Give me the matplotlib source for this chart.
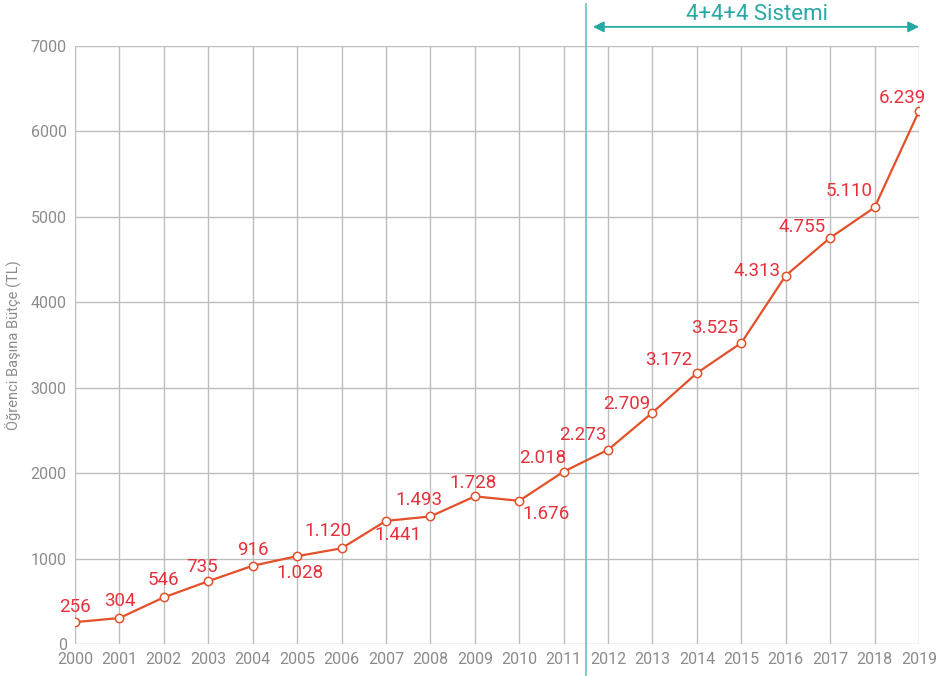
import matplotlib.pyplot as plt

years = list(range(2000, 2020))
budget = [256, 304, 546, 735, 916, 1028, 1120, 1441, 1493, 1728,
          1676, 2018, 2273, 2709, 3172, 3525, 4313, 4755, 5110, 6239]
labels = ['256', '304', '546', '735', '916', '1.028', '1.120', '1.441', '1.493', '1.728',
          '1.676', '2.018', '2.273', '2.709', '3.172', '3.525', '4.313', '4.755', '5.110', '6.239']
# label offsets in pixels (dx, dy), dy positive = up
offsets = [(0, 15), (0, 17), (0, 17), (-6, 14), (0, 16), (3, -17), (-14, 17), (12, -14),
           (-11, 16), (-2, 13), (27, -13), (-21, 14), (-25, 15), (-26, 9), (-28, 13),
           (-27, 15), (-29, 5), (-28, 11), (-26, 16), (-17, 13)]

plt.rcParams['font.family'] = ['Roboto', 'DejaVu Sans']

fig = plt.figure(figsize=(9.4, 6.76), dpi=100)
ax = fig.add_axes([75 / 940, 1 - 644 / 676, 844 / 940, 598 / 676])

ax.plot(years, budget, color='#e4502a', lw=1.6, marker='o', ms=6,
        mfc='white', mec='#e4502a', mew=1.1, zorder=5)

for x, y, t, (dx, dy) in zip(years, budget, labels, offsets):
    ax.annotate(t, (x, y), xytext=(dx, dy), textcoords='offset pixels',
                ha='center', va='center', color='#e8303a', fontsize=13.5, zorder=6)

ax.set_xlim(2000, 2019)
ax.set_ylim(0, 7000)
ax.set_xticks(years)
ax.set_yticks(range(0, 7001, 1000))
ax.grid(True, color='#bdbdbd', lw=1)
ax.set_axisbelow(True)
for s in ax.spines.values():
    s.set_visible(False)
ax.tick_params(length=0, colors='#8c8c8c', labelsize=11.5, pad=6)
ax.set_ylabel('Öğrenci Başına Bütçe (TL)', color='#8c8c8c', fontsize=10.5, labelpad=6)

# 4+4+4 period marker
ax.plot([2011.5, 2011.5], [-0.054, 1.07], transform=ax.get_xaxis_transform(),
        color='#6ccac6', lw=1.3, clip_on=False, zorder=3)
ax.annotate('', xy=(2019, 1.032), xytext=(2011.66, 1.032),
            xycoords=ax.get_xaxis_transform(),
            arrowprops=dict(arrowstyle='<|-|>', color='#26a8a3', lw=1.3,
                            mutation_scale=16, shrinkA=0, shrinkB=0))
ax.text(2015.35, 1.053, '4+4+4 Sistemi', transform=ax.get_xaxis_transform(),
        ha='center', va='center', color='#2aa9a4', fontsize=16)

fig.savefig('out.png', dpi=100)
